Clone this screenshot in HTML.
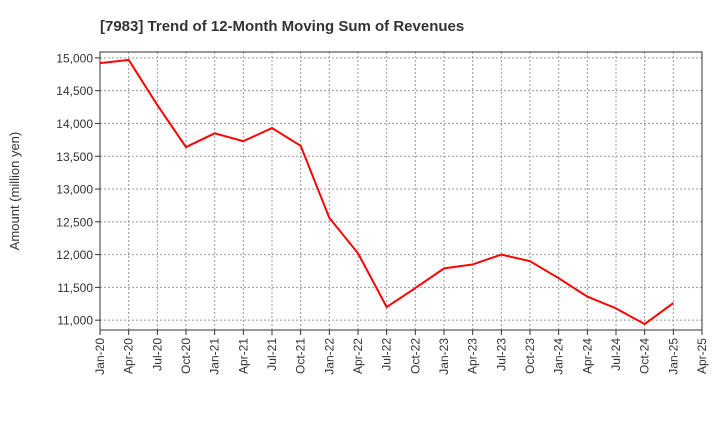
<!DOCTYPE html>
<html><head><meta charset="utf-8"><style>
body{margin:0;background:#fff;font-family:"Liberation Sans",sans-serif}
</style></head><body>
<svg id="chart" width="720" height="440" xmlns="http://www.w3.org/2000/svg" font-family="Liberation Sans, sans-serif">
<text x="100" y="31" font-size="15" font-weight="bold" fill="#333">[7983]  Trend of 12-Month Moving Sum of Revenues</text>
<text transform="translate(19,191) rotate(-90)" text-anchor="middle" font-size="13" fill="#333">Amount (million yen)</text>
<g id="grid"></g><g id="axes"></g><g id="series"></g>
</svg>
<script>
const categories=["Jan-20","Apr-20","Jul-20","Oct-20","Jan-21","Apr-21","Jul-21","Oct-21","Jan-22","Apr-22","Jul-22","Oct-22","Jan-23","Apr-23","Jul-23","Oct-23","Jan-24","Apr-24","Jul-24","Oct-24","Jan-25","Apr-25"];
const revenues=[14920,14970,14280,13640,13850,13730,13930,13660,12560,12020,11200,11490,11790,11850,12000,11900,11640,11360,11180,10940,11260];
const yTicks=[11000,11500,12000,12500,13000,13500,14000,14500,15000];
const L=100,R=702,T=52,B=330,yMin=10850,yMax=15090;
const ns="http://www.w3.org/2000/svg";
const xs=i=>L+i*(R-L)/(categories.length-1);
const ys=v=>B-(v-yMin)/(yMax-yMin)*(B-T);
function mk(t,a,p){const e=document.createElementNS(ns,t);for(const k in a)e.setAttribute(k,a[k]);p.appendChild(e);return e;}
const grid=document.getElementById('grid'),axes=document.getElementById('axes'),series=document.getElementById('series');
yTicks.forEach(v=>{const y=ys(v);
const g=mk('line',{x1:L,x2:R,y1:y,y2:y,stroke:'#999','stroke-dasharray':'2,2','stroke-width':1},grid);


mk('line',{x1:L-5,x2:L,y1:y,y2:y,stroke:'#333'},axes);
const t=mk('text',{x:L-7,y:y+4.5,'text-anchor':'end','font-size':12,fill:'#333'},axes);
t.textContent=v.toLocaleString('en-US');

});
categories.forEach((c,i)=>{const x=xs(i);
const g=mk('line',{x1:x,x2:x,y1:T,y2:B,stroke:'#999','stroke-dasharray':'2,2','stroke-width':1},grid);


mk('line',{x1:x,x2:x,y1:B,y2:B+5,stroke:'#333'},axes);
const t=mk('text',{transform:`translate(${x+4},${B+8}) rotate(-90)`,'text-anchor':'end','font-size':12,fill:'#333'},axes);
t.textContent=c;

});
const f=mk('rect',{x:L,y:T,width:R-L,height:B-T,fill:'none',stroke:'#333'},axes);


const p=mk('polyline',{points:revenues.map((v,i)=>xs(i)+','+ys(v)).join(' '),fill:'none',stroke:'#f00','stroke-width':2},series);


</script>
</body></html>
